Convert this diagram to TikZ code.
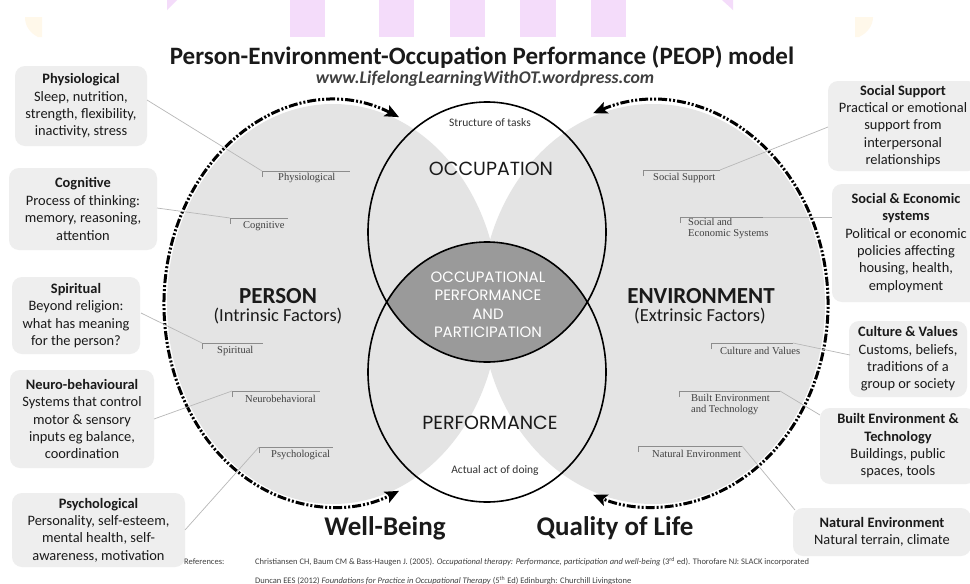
\documentclass[tikz,border=0pt]{standalone}
\usepackage{fontspec}
\setmainfont{Carlito}
\newfontfamily\labelserif{Liberation Serif}
\newfontfamily\gothicfont{Poppins}
\usetikzlibrary{arrows.meta}
\definecolor{pinkbar}{HTML}{F4DCFA}
\definecolor{creamy}{HTML}{FFF8EA}
\definecolor{areagray}{HTML}{E4E4E4}
\definecolor{lensgray}{HTML}{9A9A9A}
\definecolor{boxgray}{HTML}{EEEEEE}
\definecolor{leadgray}{HTML}{B8B8B8}
\definecolor{brkgray}{HTML}{8C8C8C}
\definecolor{inkdark}{HTML}{1A1A1A}
\begin{document}
\begin{tikzpicture}[x=1pt,y=-1pt,
  box/.style={fill=boxgray, rounded corners=10pt, align=center, inner sep=0pt, text=inkdark, font=\fontsize{14.4}{17.4}\selectfont},
  lbl/.style={font=\labelserif\fontsize{10.5}{10.5}\selectfont, text=black!75, anchor=west, inner sep=0pt, align=left},
  brk/.style={draw=brkgray, line width=0.8pt},
  lead/.style={draw=leadgray, line width=0.7pt},
  ring/.style={draw=black, line width=1.6pt},
  dasharc/.style={line width=3pt, dash pattern=on 9pt off 2pt on 2pt off 2pt on 2pt off 2pt,
    {Stealth[length=14pt,width=12pt,inset=3pt]}-{Stealth[length=14pt,width=12pt,inset=3pt]}},
  bigsans/.style={font=\bfseries\fontsize{23}{26}\selectfont, text=inkdark},
  subsans/.style={font=\fontsize{18.4}{20}\selectfont, text=inkdark},
  gothic/.style={font=\gothicfont\fontsize{19}{22}\selectfont, text=inkdark},
  smallsans/.style={font=\fontsize{11.5}{13}\selectfont, text=black!80},
  outcome/.style={font=\bfseries\fontsize{27}{30}\selectfont, text=inkdark},
  refs/.style={font=\fontsize{8.5}{10}\selectfont, text=black!75, anchor=west, inner sep=0pt},
]
\useasboundingbox (0,0) rectangle (970,584);
\fill[white] (0,0) rectangle (970,584);

% top decorative band
\foreach \xa/\xb in {290/325, 379/414, 450/485, 520/556, 591/626}
  \fill[pinkbar] (\xa,0) rectangle (\xb,37);
\fill[pinkbar] (167,0) -- (177,0) -- (167,10) -- cycle;
\fill[pinkbar] (722,0) -- (733,0) -- (733,10) -- cycle;
\fill[creamy] (25,17) -- (42,17) -- (42,37) -- (38,37) .. controls (30,33) and (25,26) .. cycle;
\fill[creamy] (873,17) -- (855,17) -- (855,37) -- (859,37) .. controls (867,33) and (873,26) .. cycle;

% title
\node[font=\bfseries\fontsize{25}{28}\selectfont, text=inkdark] (title) at (482,57) {Person-Environment-Occupation Performance (PEOP) model};
\node[font=\bfseries\itshape\fontsize{17.8}{20}\selectfont, text=black!75] (url) at (485,79) {www.LifelongLearningWithOT.wordpress.com};

% gray areas
\fill[areagray] (333,304) ellipse [x radius=166, y radius=200];
\fill[areagray] (653,304) ellipse [x radius=172, y radius=200];
\begin{scope}
  \clip (487,232) ellipse [x radius=119, y radius=130];
  \fill[lensgray] (487,372) ellipse [x radius=119, y radius=130];
\end{scope}
\draw[ring] (487,232) ellipse [x radius=119, y radius=130];
\draw[ring] (487,372) ellipse [x radius=119, y radius=130];

% dashed arcs with arrows
\draw[dasharc] (333,304) ++(-67:169 and 203) arc[start angle=-67, end angle=-293, x radius=169, y radius=203];
\draw[dasharc] (653,304) ++(-110:175 and 203) arc[start angle=-110, end angle=110, x radius=175, y radius=203];

% circle texts
\node[smallsans] (struct) at (490,123) {Structure of tasks};
\node[gothic] (occ) at (491,169) {OCCUPATION};
\node[font=\gothicfont\fontsize{15}{18.5}\selectfont, text=white, align=center] (opp) at (488,305) {OCCUPATIONAL\\PERFORMANCE\\AND\\PARTICIPATION};
\node[gothic] (perf) at (490,423) {PERFORMANCE};
\node[smallsans] (act) at (495,470) {Actual act of doing};

% main labels
\node[bigsans] (person) at (278,296) {PERSON};
\node[subsans] (intr) at (278,316) {(Intrinsic Factors)};
\node[bigsans] (env) at (701,296) {ENVIRONMENT};
\node[subsans] (extr) at (700,316) {(Extrinsic Factors)};

\node[outcome] (wb) at (385,528) {Well-Being};
\node[outcome] (qol) at (615,528) {Quality of Life};

% left boxes
\node[box, minimum width=132pt, minimum height=80pt] (physbox) at (81,106) {\textbf{Physiological}\\Sleep, nutrition,\\strength, flexibility,\\inactivity, stress};
\node[box, minimum width=148pt, minimum height=82pt] (cogbox) at (83,209) {\textbf{Cognitive}\\Process of thinking:\\memory, reasoning,\\attention};
\node[box, minimum width=128pt, minimum height=77pt] (spirbox) at (76,315.5) {\textbf{Spiritual}\\Beyond religion:\\what has meaning\\for the person?};
\node[box, minimum width=144pt, minimum height=98pt] (neurobox) at (82,419) {\textbf{Neuro-behavioural}\\Systems that control\\motor \& sensory\\inputs eg balance,\\coordination};
\node[box, minimum width=173pt, minimum height=74pt] (psychbox) at (98.5,530) {\textbf{Psychological}\\Personality, self-esteem,\\mental health, self-\\awareness, motivation};

% right boxes
\node[box, minimum width=150pt, minimum height=90pt] (socbox) at (903,126) {\textbf{Social Support}\\Practical or emotional\\support from\\interpersonal\\relationships};
\node[box, minimum width=148pt, minimum height=118pt] (secbox) at (906,243) {\textbf{Social \& Economic}\\\textbf{systems}\\Political or economic\\policies affecting\\housing, health,\\employment};
\node[box, minimum width=118pt, minimum height=76pt] (cultbox) at (908,359) {\textbf{Culture \& Values}\\Customs, beliefs,\\traditions of a\\group or society};
\node[box, minimum width=156pt, minimum height=76pt] (builtbox) at (898,446) {\textbf{Built Environment \&}\\\textbf{Technology}\\Buildings, public\\spaces, tools};
\node[box, minimum width=178pt, minimum height=48pt] (natbox) at (882,532) {\textbf{Natural Environment}\\Natural terrain, climate};

% small labels with brackets (person side)
\node[lbl] (phys) at (278,178) {Physiological};
\node[lbl] (cog) at (243,226) {Cognitive};
\node[lbl] (spir) at (217,351) {Spiritual};
\node[lbl] (neuro) at (245,399) {Neurobehavioral};
\node[lbl] (psych) at (271,455) {Psychological};
\coordinate (kphys) at (262,171);
\coordinate (kcog) at (230,218);
\coordinate (kspir) at (202,343);
\coordinate (kneuro) at (232,391);
\coordinate (kpsych) at (259,447);
\draw[brk] (kphys) ++(0,6) -- (kphys) -- ++(88,0);
\draw[brk] (kcog) ++(0,6) -- (kcog) -- ++(58,0);
\draw[brk] (kspir) ++(0,6) -- (kspir) -- ++(61,0);
\draw[brk] (kneuro) ++(0,6) -- (kneuro) -- ++(88,0);
\draw[brk] (kpsych) ++(0,6) -- (kpsych) -- ++(74,0);

% small labels with brackets (environment side)
\node[lbl] (soc) at (653,178) {Social Support};
\node[lbl] (sec) at (688,228.5) {Social and\\Economic Systems};
\node[lbl] (cult) at (720,351) {Culture and Values};
\node[lbl] (built) at (691,404.5) {Built Environment\\and Technology};
\node[lbl] (nat) at (652,454) {Natural Environment};
\coordinate (ksoc) at (643,170);  \coordinate (esoc) at (720,170);
\coordinate (ksec) at (680,217);  \coordinate (esec) at (763,217);
\coordinate (kcult) at (711,343); \coordinate (ecult) at (793,343);
\coordinate (kbuilt) at (679,391); \coordinate (ebuilt) at (780,391);
\coordinate (knat) at (638,446);  \coordinate (enat) at (742,446);
\draw[brk] (ksoc) ++(0,6) -- (ksoc) -- (esoc);
\draw[brk] (ksec) ++(0,6) -- (ksec) -- (esec);
\draw[brk] (kcult) ++(0,6) -- (kcult) -- (ecult);
\draw[brk] (kbuilt) ++(0,6) -- (kbuilt) -- (ebuilt);
\draw[brk] (knat) ++(0,6) -- (knat) -- (enat);

% leader lines
\coordinate (lphys) at (147,100);
\coordinate (lcog) at (157,208);
\coordinate (lspir) at (141,313);
\coordinate (lneuro) at (154,419);
\coordinate (lpsych) at (185,530);
\coordinate (lsoc) at (828,127);
\coordinate (lsec) at (832,217);
\coordinate (lcult) at (850,355);
\coordinate (lbuilt) at (820,415);
\coordinate (lnat) at (795,510);
\draw[lead] (lphys) -- (kphys);
\draw[lead] (lcog) -- (kcog);
\draw[lead] (lspir) -- (kspir);
\draw[lead] (lneuro) -- (kneuro);
\draw[lead] (lpsych) -- (kpsych);
\draw[lead] (lsoc) -- (esoc);
\draw[lead] (lsec) -- (esec);
\draw[lead] (lcult) -- (ecult);
\draw[lead] (lbuilt) -- (ebuilt);
\draw[lead] (lnat) -- (enat);

% references
\node[refs] (refhead) at (184,562) {References:};
\node[refs] (ref1) at (255,562) {Christiansen CH, Baum CM \& Bass-Haugen J. (2005). \textit{Occupational therapy: Performance, participation and well-being} (3\textsuperscript{rd} ed). Thorofare NJ: SLACK incorporated};
\node[refs] (ref2) at (255,581) {Duncan EES (2012) \textit{Foundations for Practice in Occupational Therapy} (5\textsuperscript{th} Ed) Edinburgh: Churchill Livingstone};
\end{tikzpicture}
\end{document}
